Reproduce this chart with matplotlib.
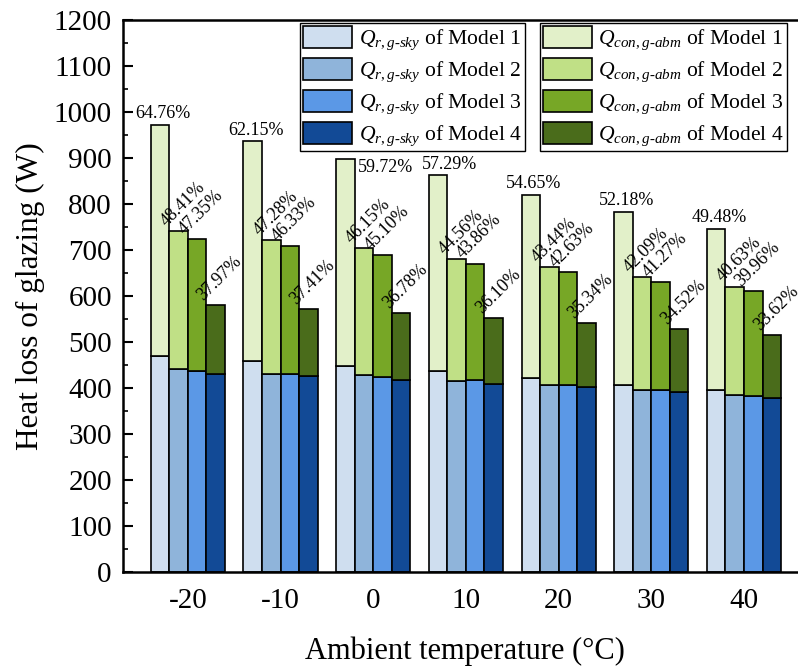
import matplotlib
matplotlib.use("Agg")
import matplotlib.pyplot as plt
from matplotlib.ticker import MultipleLocator
import numpy as np

plt.rcParams['font.family'] = ['Liberation Serif', 'DejaVu Serif']
plt.rcParams['mathtext.fontset'] = 'custom'
plt.rcParams['mathtext.rm'] = 'Liberation Serif'
plt.rcParams['mathtext.it'] = 'Liberation Serif:italic'

temps = [-20, -10, 0, 10, 20, 30, 40]

# radiation part (bottom) and convection part (stacked on top), W
q_rad_m1 = [469, 458, 447, 436, 422, 407, 396]
q_rad_m2 = [440, 431, 427, 414, 407, 396, 385]
q_rad_m3 = [437, 430, 424, 416, 406, 395, 382]
q_rad_m4 = [431, 426, 418, 409, 401, 390, 378]

q_con_m1 = [503, 478, 451, 426, 397, 375, 350]
q_con_m2 = [300, 290, 277, 266, 256, 245, 235]
q_con_m3 = [286, 278, 265, 254, 246, 235, 228]
q_con_m4 = [149, 146, 144, 142, 139, 137, 136]

pct_m1 = ["64.76%", "62.15%", "59.72%", "57.29%", "54.65%", "52.18%", "49.48%"]
pct_m2 = ["48.41%", "47.28%", "46.15%", "44.56%", "43.44%", "42.09%", "40.63%"]
pct_m3 = ["47.35%", "46.33%", "45.10%", "43.86%", "42.63%", "41.27%", "39.96%"]
pct_m4 = ["37.97%", "37.41%", "36.78%", "36.10%", "35.34%", "34.52%", "33.62%"]

blues = ['#cfdeef', '#8fb4da', '#5b98e6', '#124a96']
greens = ['#e2f0c9', '#c0e086', '#77a726', '#4a6c1b']

rad = [q_rad_m1, q_rad_m2, q_rad_m3, q_rad_m4]
con = [q_con_m1, q_con_m2, q_con_m3, q_con_m4]
pcts = [pct_m1, pct_m2, pct_m3, pct_m4]

fig = plt.figure(figsize=(7.98, 6.72), dpi=100)
ax = fig.add_axes([0.1541, 0.1493, 0.8572, 0.8209])

x = np.array(temps, dtype=float)
w = 2.0
offsets = [-3, -1, 1, 3]

rad_handles = []
con_handles = []
for m in range(4):
    xs = x + offsets[m]
    b1 = ax.bar(xs, rad[m], w, color=blues[m], edgecolor='black', linewidth=1.2, zorder=2)
    b2 = ax.bar(xs, con[m], w, bottom=rad[m], color=greens[m], edgecolor='black', linewidth=1.2, zorder=2)
    rad_handles.append(b1)
    con_handles.append(b2)

    tops = np.array(rad[m]) + np.array(con[m])
    for i in range(len(temps)):
        if m == 0:
            if i == 2:
                ax.annotate(pcts[m][i], (xs[i] + w / 2, tops[i]), xytext=(2, 0),
                            textcoords='offset points', ha='left', va='top', fontsize=13)
            elif i == 3:
                ax.annotate(pcts[m][i], (xs[i], tops[i]), xytext=(8, 2),
                            textcoords='offset points', ha='center', va='bottom', fontsize=13)
            else:
                ax.annotate(pcts[m][i], (xs[i], tops[i]), xytext=(2, 2),
                            textcoords='offset points', ha='center', va='bottom', fontsize=13)
        else:
            ax.annotate(pcts[m][i], (xs[i] - w / 2, tops[i]), xytext=(0, 1),
                        textcoords='offset points', ha='left', va='bottom', fontsize=13,
                        rotation=45, rotation_mode='anchor')

ax.set_xlim(-27, 46.8)
ax.set_ylim(0, 1200)
ax.set_xticks(temps)
ax.set_xticklabels([str(t) for t in temps])
ax.yaxis.set_major_locator(MultipleLocator(100))
ax.yaxis.set_minor_locator(MultipleLocator(50))
ax.tick_params(axis='y', which='major', direction='in', length=7, width=1.5, labelsize=21, pad=8)
ax.tick_params(axis='y', which='minor', direction='in', length=3.5, width=1.2)
ax.tick_params(axis='x', length=0, labelsize=21, pad=12)
for s in ['left', 'bottom', 'top']:
    ax.spines[s].set_linewidth(1.8)
ax.spines['right'].set_visible(False)

ax.set_xlabel('Ambient temperature (°C)', fontsize=22, labelpad=16)
ax.set_ylabel('Heat loss of glazing (W)', fontsize=22.5, labelpad=6)

rad_labels = [r'$Q_{r,g\text{-}sky}$ of Model %d' % (k + 1) for k in range(4)]
con_labels = [r'$Q_{con,g\text{-}abm}$ of Model %d' % (k + 1) for k in range(4)]

leg_kw = dict(loc='upper left', fontsize=15.6, handlelength=2.25, handleheight=1.15,
              handletextpad=0.3, labelspacing=0.27, borderpad=0.15, borderaxespad=0,
              fancybox=False, framealpha=1, edgecolor='black')
leg1 = ax.legend(rad_handles, rad_labels, bbox_to_anchor=(0.2588, 0.9946), **leg_kw)
leg1.get_frame().set_linewidth(1.0)
ax.add_artist(leg1)
leg2 = ax.legend(con_handles, con_labels, bbox_to_anchor=(0.6096, 0.9946), **leg_kw)
leg2.get_frame().set_linewidth(1.0)

fig.savefig('out.png', dpi=100)
